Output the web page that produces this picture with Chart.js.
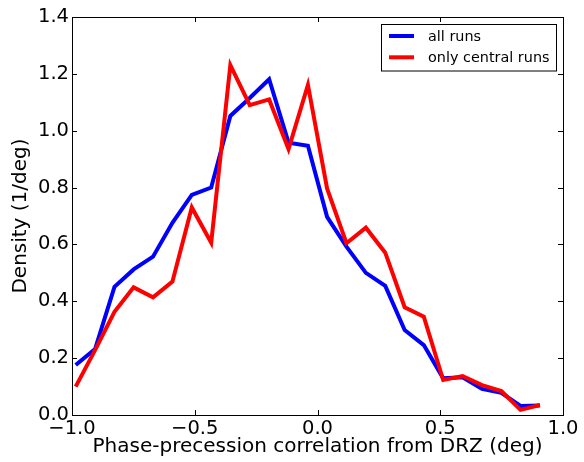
<!DOCTYPE html>
<html>
<head>
<meta charset="utf-8">
<script src="https://cdn.jsdelivr.net/npm/chart.js@4/dist/chart.umd.min.js"></script>
<style>
  html, body { margin: 0; padding: 0; background: #fff; }
  #wrap { width: 584px; height: 462px; }
</style>
</head>
<body>
<div id="wrap"><canvas id="c" width="584" height="462"></canvas></div>
<script>
// Histogram bin centres (deg)
const binCentres = [-0.985, -0.906, -0.827, -0.749, -0.670, -0.591, -0.512, -0.433, -0.355,
  -0.276, -0.197, -0.118, -0.039, 0.039, 0.118, 0.197, 0.276, 0.355, 0.433, 0.512,
  0.591, 0.670, 0.749, 0.827, 0.906];

// Density of phase-precession correlation, all runs
const allRuns = [0.176, 0.232, 0.451, 0.512, 0.557, 0.676, 0.774, 0.800, 1.052, 1.115,
  1.181, 0.958, 0.947, 0.697, 0.592, 0.500, 0.454, 0.299, 0.246, 0.129,
  0.133, 0.092, 0.078, 0.032, 0.033];

// Density, central runs only
const centralRuns = [0.100, 0.228, 0.363, 0.449, 0.414, 0.469, 0.730, 0.606, 1.231, 1.090,
  1.110, 0.935, 1.161, 0.797, 0.604, 0.659, 0.571, 0.379, 0.346, 0.123,
  0.137, 0.105, 0.084, 0.018, 0.035];

const seriesNames = ['all runs', 'only central runs'];
const xTicks = [-1.0, -0.5, 0.0, 0.5, 1.0];
const yTicks = [0.0, 0.2, 0.4, 0.6, 0.8, 1.0, 1.2, 1.4];

const FONT = 'DejaVu Sans';
const fmt = v => (v < 0 ? '\u2212' : '') + Math.abs(v).toFixed(1);

// Inward tick marks on all four sides, the axes frame and a boxed legend
const framePlugin = {
  id: 'frame',
  afterDraw(chart) {
    const ctx = chart.ctx;
    const a = chart.chartArea;
    const xs = chart.scales.x, ys = chart.scales.y;
    const L = 5;
    ctx.save();
    ctx.strokeStyle = '#000';
    ctx.lineWidth = 1;
    ctx.beginPath();
    xTicks.forEach(v => {
      const px = Math.round(xs.getPixelForValue(v)) + 0.5;
      ctx.moveTo(px, a.bottom); ctx.lineTo(px, a.bottom - L);
      ctx.moveTo(px, a.top); ctx.lineTo(px, a.top + L);
    });
    yTicks.forEach(v => {
      const py = Math.round(ys.getPixelForValue(v)) + 0.5;
      ctx.moveTo(a.left, py); ctx.lineTo(a.left + L, py);
      ctx.moveTo(a.right, py); ctx.lineTo(a.right - L, py);
    });
    ctx.stroke();
    ctx.strokeRect(Math.round(a.left) + 0.5, Math.round(a.top) + 0.5,
      Math.round(a.right - a.left), Math.round(a.bottom - a.top));

    // legend
    const bx = 381.5, by = 24.5, bw = 175, bh = 46.5;
    ctx.fillStyle = '#fff';
    ctx.fillRect(bx, by, bw, bh);
    ctx.strokeStyle = '#000';
    ctx.strokeRect(bx, by, bw, bh);
    ctx.font = '14.4px "' + FONT + '"';
    ctx.textBaseline = 'middle';
    ctx.textAlign = 'left';
    chart.data.datasets.forEach((ds, i) => {
      const y = 36 + i * 21.3;
      ctx.strokeStyle = ds.borderColor;
      ctx.lineWidth = 4;
      ctx.beginPath();
      ctx.moveTo(389, y); ctx.lineTo(414, y);
      ctx.stroke();
      ctx.fillStyle = '#000';
      ctx.fillText(ds.label, 428, y + 1);
    });
    ctx.restore();
  }
};

const chart = new Chart(document.getElementById('c'), {
  type: 'line',
  data: {
    datasets: [
      {
        label: seriesNames[0],
        data: binCentres.map((x, i) => ({ x, y: allRuns[i] })),
        borderColor: '#0000ff',
        borderWidth: 4,
        pointRadius: 0,
        tension: 0,
        borderJoinStyle: 'miter',
        order: 1
      },
      {
        label: seriesNames[1],
        data: binCentres.map((x, i) => ({ x, y: centralRuns[i] })),
        borderColor: '#ff0000',
        borderWidth: 4,
        pointRadius: 0,
        tension: 0,
        borderJoinStyle: 'miter',
        order: 0
      }
    ]
  },
  options: {
    responsive: false,
    animation: false,
    events: [],
    layout: { padding: { left: 9, right: 21, top: 17, bottom: 3 } },
    plugins: { legend: { display: false }, tooltip: { enabled: false } },
    scales: {
      x: {
        type: 'linear',
        min: -1, max: 1,
        afterBuildTicks: s => { s.ticks = xTicks.map(v => ({ value: v })); },
        afterFit: s => { s.height = 44; },
        grid: { display: false, drawTicks: false },
        border: { display: false },
        ticks: {
          padding: 2,
          color: '#000',
          font: { family: FONT, size: 19.5 },
          callback: v => fmt(v),
          maxRotation: 0,
          autoSkip: false
        },
        title: {
          display: true,
          text: 'Phase-precession correlation from DRZ (deg)',
          color: '#000',
          font: { family: FONT, size: 20 },
          padding: 0
        }
      },
      y: {
        type: 'linear',
        min: 0, max: 1.4,
        afterBuildTicks: s => { s.ticks = yTicks.map(v => ({ value: v })); },
        afterFit: s => { s.width = 63; },
        grid: { display: false, drawTicks: false },
        border: { display: false },
        ticks: {
          padding: 3,
          color: '#000',
          font: { family: FONT, size: 19.5 },
          callback: v => fmt(v),
          autoSkip: false
        },
        title: {
          display: true,
          text: 'Density (1/deg)',
          color: '#000',
          font: { family: FONT, size: 20 },
          padding: 0
        }
      }
    }
  },
  plugins: [framePlugin]
});
</script>
</body>
</html>
